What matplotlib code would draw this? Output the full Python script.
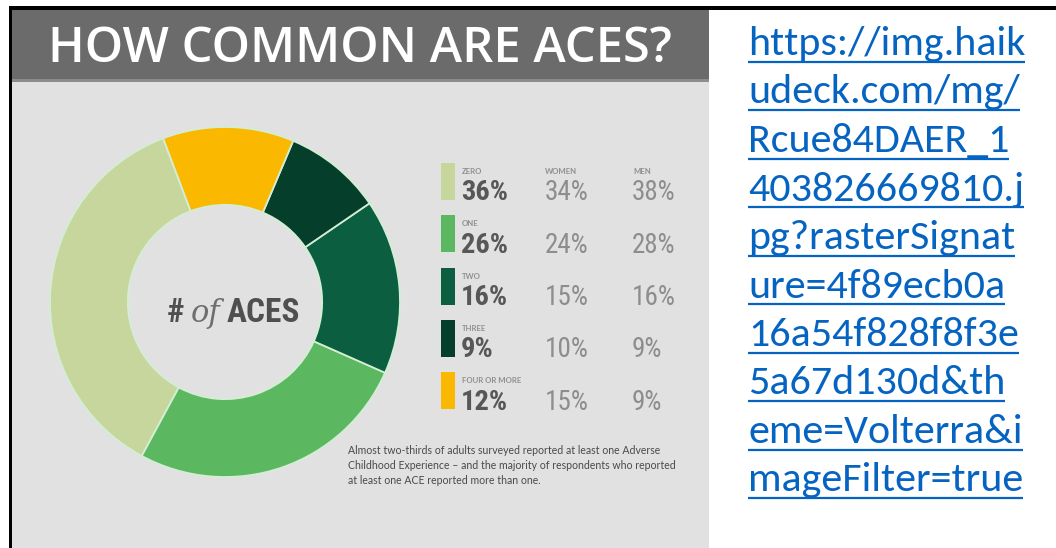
import matplotlib
matplotlib.use('Agg')
import matplotlib.pyplot as plt
from matplotlib.patches import Rectangle
from matplotlib import font_manager

# ---------------- data ----------------
categories = ['ZERO', 'ONE', 'TWO', 'THREE', 'FOUR OR MORE']
overall = [36, 26, 16, 9, 12]
women = [34, 24, 15, 10, 15]
men = [38, 28, 16, 9, 9]
colors = ['#c6d69c', '#5cb860', '#0b5f40', '#053f2b', '#fbb800']
col_headers = ['WOMEN', 'MEN']
title = 'HOW COMMON ARE ACES?'
center_parts = ['#', 'of', 'ACES']
footnote = ['Almost two-thirds of adults surveyed reported at least one Adverse',
            'Childhood Experience \u2013 and the majority of respondents who reported',
            'at least one ACE reported more than one.']
url_lines = ['https://img.haik', 'udeck.com/mg/', 'Rcue84DAER_1', '403826669810.j',
             'pg?rasterSignat', 'ure=4f89ecb0a', '16a54f828f8f3e', '5a67d130d&th',
             'eme=Volterra&i', 'mageFilter=true']

W, H, DPI = 1056, 548, 100
avail = {f.name for f in font_manager.fontManager.ttflist}
def pick(*names):
    for n in names:
        if n in avail:
            return n
    return 'DejaVu Sans'
F_TITLE = pick('Open Sans', 'Lato', 'DejaVu Sans')
F_COND = pick('Liberation Sans Narrow', 'Roboto Condensed', 'Roboto', 'DejaVu Sans')
F_URL = pick('Carlito', 'Lato', 'Open Sans')
F_SMALL = pick('Lato', 'Roboto', 'DejaVu Sans')

fig = plt.figure(figsize=(W / DPI, H / DPI), dpi=DPI)
fig.patch.set_facecolor('white')
bg = fig.add_axes([0, 0, 1, 1])
bg.set_xlim(0, W)
bg.set_ylim(H, 0)
bg.axis('off')
renderer = fig.canvas.get_renderer()

def wpx(t):
    return t.get_window_extent(renderer=renderer).width

def fit(t, target):
    fs = t.get_fontsize()
    t.set_fontsize(fs * target / wpx(t))
    return t

# infographic panel
bg.add_patch(Rectangle((11, 8), 698, 540, fc='#e1e1e1', ec='none', zorder=0))
bg.add_patch(Rectangle((11, 8), 698, 72, fc='#6b6b6b', ec='none', zorder=1))
bg.add_patch(Rectangle((11, 79), 698, 3, fc='#8c8c8c', ec='none', zorder=1))
# black frame lines
bg.add_patch(Rectangle((9, 5.5), W - 9, 4, fc='black', ec='none', zorder=3))
bg.add_patch(Rectangle((8.5, 5.5), 3, H, fc='black', ec='none', zorder=3))

# title
t = bg.text(48, 62, title, fontsize=36, family=F_TITLE, weight='semibold', color='white',
            ha='left', va='baseline', zorder=4)
fit(t, 625)

# donut
cx, cy, R = 225, 302, 175
pax = fig.add_axes([(cx - R) / W, (H - cy - R) / H, 2 * R / W, 2 * R / H])
pax.pie(overall, colors=colors, startangle=110.7, counterclock=True, radius=1,
        wedgeprops=dict(width=0.445, edgecolor='#d3eed5', linewidth=1.3))
pax.set_xlim(-1, 1)
pax.set_ylim(-1, 1)
pax.axis('off')

# center text "# of ACES"
base_y = 322
t1 = bg.text(0, base_y, center_parts[0], fontsize=24, family=F_COND, weight='bold',
             color='#4f4f4f', ha='left', va='baseline', zorder=4)
t2 = bg.text(0, base_y, center_parts[1], fontsize=22, family='DejaVu Serif', style='italic',
             color='#6e6e6e', ha='left', va='baseline', zorder=4)
t3 = bg.text(0, base_y, center_parts[2], fontsize=24, family=F_COND, weight='bold',
             color='#4f4f4f', ha='left', va='baseline', zorder=4)
gap = 6
ws = [wpx(t1), wpx(t2), wpx(t3)]
x = 167
for tt, w in zip([t1, t2, t3], ws):
    tt.set_x(x)
    x += w + gap

# legend table
top0, pitch = 163, 52.3
for i, cat in enumerate(categories):
    top = top0 + i * pitch
    bg.add_patch(Rectangle((441, top), 14, 37, fc=colors[i], ec='none', zorder=4))
    bg.text(462, top + 11, cat, fontsize=5.6, family=F_SMALL, weight='bold', color='#909090',
            ha='left', va='baseline', zorder=4)
    bg.text(461, top + 37.5, f'{overall[i]}%', fontsize=20.5, family=F_COND,
            weight='bold', color='#575757', ha='left', va='baseline', zorder=4)
    bg.text(545, top + 37.5, f'{women[i]}%', fontsize=19.5, family=F_COND,
            color='#8d8d8d', ha='left', va='baseline', zorder=4)
    bg.text(632, top + 37.5, f'{men[i]}%', fontsize=19.5, family=F_COND,
            color='#8d8d8d', ha='left', va='baseline', zorder=4)
for hdr, hx in zip(col_headers, [545, 633]):
    bg.text(hx, top0 + 11, hdr, fontsize=5.6, family=F_SMALL, weight='bold', color='#909090',
            ha='left', va='baseline', zorder=4)

# footnote
fts = []
for j, line in enumerate(footnote):
    ft = bg.text(348, 454 + j * 15, line, fontsize=6, family=F_SMALL, color='#4a4a4a',
                 ha='left', va='baseline', zorder=4)
    fts.append(ft)
scale = 329 / wpx(fts[1])
for ft in fts:
    ft.set_fontsize(ft.get_fontsize() * scale)

# URL text (hyperlink style)
blue = '#0563c1'
u0 = bg.text(748, 55, url_lines[0], fontsize=22, family=F_URL, color=blue,
             ha='left', va='baseline', zorder=4)
fit(u0, 276)
ufs = u0.get_fontsize()
upitch = 48.5
for k, line in enumerate(url_lines):
    if k == 0:
        ut = u0
    else:
        ut = bg.text(748, 55 + k * upitch, line, fontsize=ufs, family=F_URL, color=blue,
                     ha='left', va='baseline', zorder=4)
    w = wpx(ut)
    yl = 55 + k * upitch + 6.5
    bg.plot([748, 748 + w], [yl, yl], color=blue, lw=1.6, zorder=4, solid_capstyle='butt')

fig.savefig('out.png', dpi=DPI, facecolor='white')
